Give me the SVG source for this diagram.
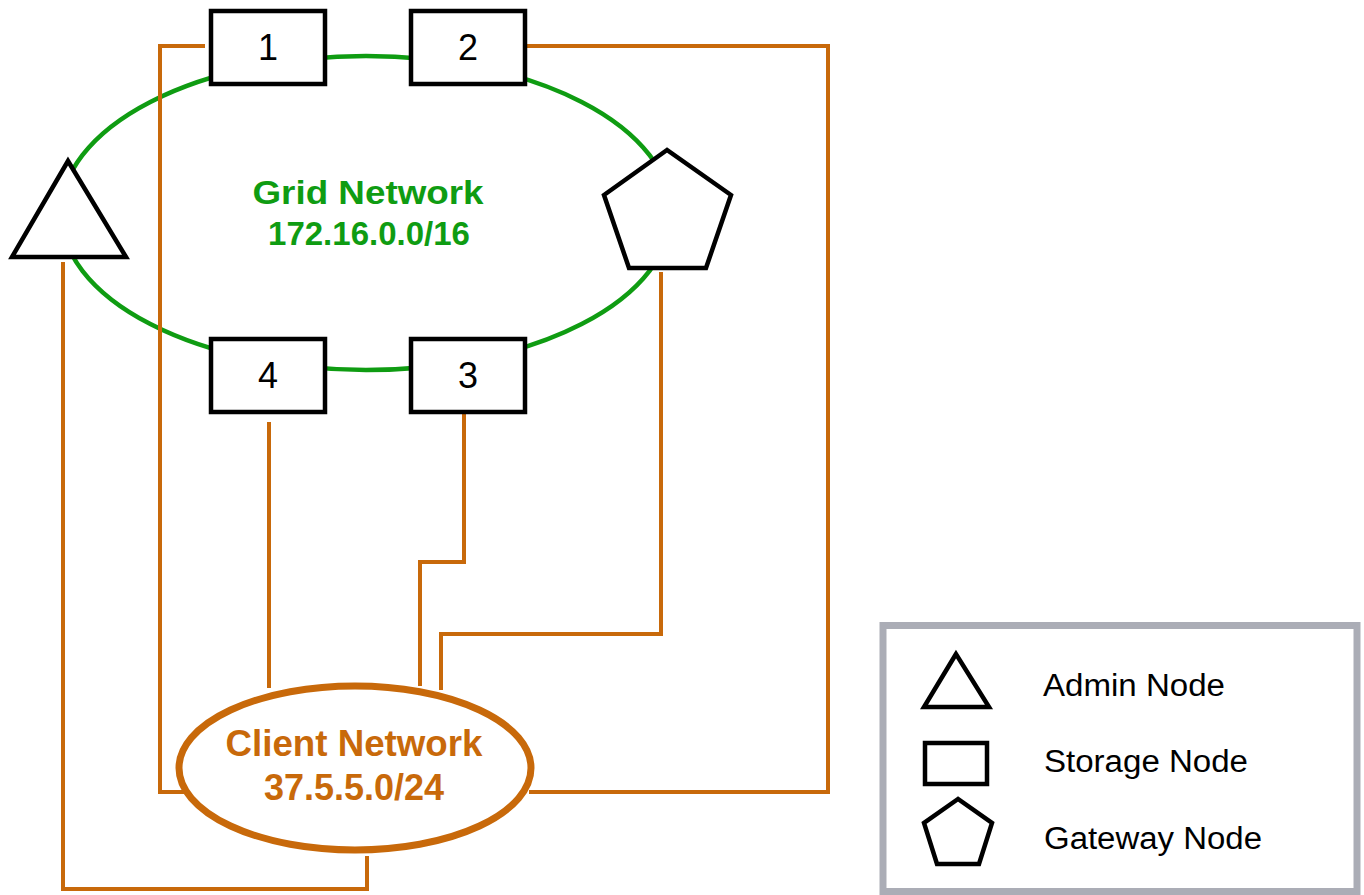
<svg xmlns="http://www.w3.org/2000/svg" width="1364" height="895" viewBox="0 0 1364 895">
<style>
.node{fill:#fff;stroke:#000;stroke-width:4.5;stroke-linejoin:miter}
.or{fill:none;stroke:#c8690a;stroke-width:4;stroke-linejoin:miter}
.lbl{font-family:"Liberation Sans",Arial,sans-serif;font-size:36px;fill:#000;text-anchor:middle}
.grid{font-family:"Liberation Sans",Arial,sans-serif;font-weight:bold;font-size:33px;fill:#0f9c12;text-anchor:middle}
.client{font-family:"Liberation Sans",Arial,sans-serif;font-weight:bold;font-size:36px;fill:#c8690a;text-anchor:middle}
.leg{font-family:"Liberation Sans",Arial,sans-serif;font-size:31px;fill:#000}
</style>
<rect width="1364" height="895" fill="#fff"/>
<g id="grid-network">
<ellipse cx="366" cy="213" rx="305" ry="157" fill="none" stroke="#0f9c12" stroke-width="4.5"/>
<text class="grid" x="368" y="204" textLength="231" lengthAdjust="spacingAndGlyphs">Grid Network</text>
<text class="grid" x="369" y="245">172.16.0.0/16</text>
</g>
<g id="connectors">
<polyline class="or" points="205,46 160,46 160,792 190,792"/>
<polyline class="or" points="527,46 828,46 828,792 529,792"/>
<polyline class="or" points="63,262 63,889 367,889 367,856"/>
<polyline class="or" points="269,422 269,688"/>
<polyline class="or" points="464,414 464,562 420,562 420,686"/>
<polyline class="or" points="661,272 661,634 441,634 441,690"/>
</g>
<g id="client-network">
<ellipse cx="355" cy="768" rx="176" ry="82" fill="#fff" stroke="#c8690a" stroke-width="7"/>
<text class="client" x="354" y="756" textLength="257" lengthAdjust="spacingAndGlyphs">Client Network</text>
<text class="client" x="354" y="800">37.5.5.0/24</text>
</g>
<g id="node-1"><rect class="node" x="211" y="11" width="114" height="73"/><text class="lbl" x="268" y="60">1</text></g>
<g id="node-2"><rect class="node" x="411" y="11" width="114" height="73"/><text class="lbl" x="468" y="60">2</text></g>
<g id="node-4"><rect class="node" x="211" y="339" width="114" height="73"/><text class="lbl" x="268" y="388">4</text></g>
<g id="node-3"><rect class="node" x="411" y="339" width="114" height="73"/><text class="lbl" x="468" y="388">3</text></g>
<g id="admin-node"><polygon class="node" points="68,161 12,257 126,257"/></g>
<g id="gateway-node"><polygon class="node" points="667,150 604,195 629,268 706,268 731,195"/></g>
<g id="legend">
<rect x="883" y="625.5" width="474" height="266" fill="#fff" stroke="#abadb6" stroke-width="7"/>
<polygon class="node" points="956,654 924,707 989,707"/>
<rect class="node" x="925" y="743" width="62" height="41"/>
<polygon class="node" points="958,799 924,823 937,864 979,864 992,823"/>
<text class="leg" x="1043" y="696" textLength="182" lengthAdjust="spacingAndGlyphs">Admin Node</text>
<text class="leg" x="1044" y="772" textLength="204" lengthAdjust="spacingAndGlyphs">Storage Node</text>
<text class="leg" x="1044" y="849" textLength="218" lengthAdjust="spacingAndGlyphs">Gateway Node</text>
</g>
</svg>
